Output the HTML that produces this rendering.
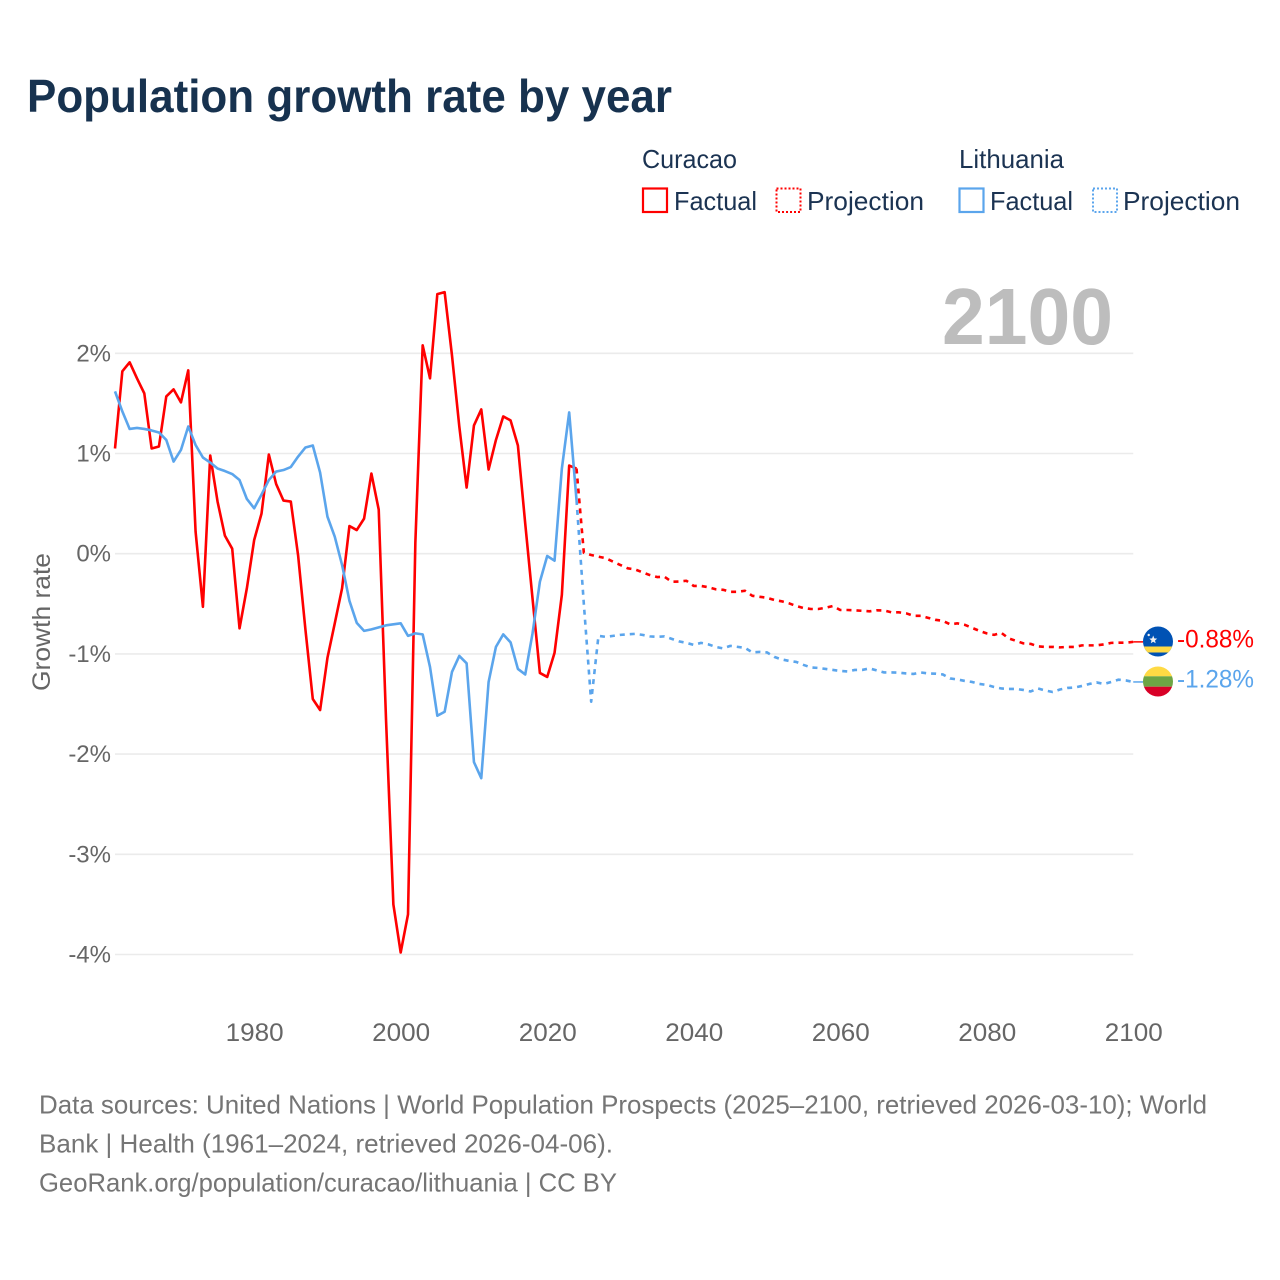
<!DOCTYPE html>
<html lang="en">
<head>
<meta charset="utf-8">
<title>Population growth rate by year</title>
<style>
html,body{margin:0;padding:0;background:#fff;}
svg{display:block;}
text{font-family:"Liberation Sans",sans-serif;}
</style>
</head>
<body>
<svg id="chart" xmlns="http://www.w3.org/2000/svg" width="1280" height="1280" viewBox="0 0 1280 1280">
  <rect x="0" y="0" width="1280" height="1280" fill="#ffffff"/>
  <text x="27" y="112" font-size="46" font-weight="700" fill="#17324f" textLength="645" lengthAdjust="spacingAndGlyphs">Population growth rate by year</text>

  <g font-size="26" fill="#1b3352">
    <text x="642" y="168" textLength="95" lengthAdjust="spacingAndGlyphs">Curacao</text>
    <text x="959" y="168" textLength="105" lengthAdjust="spacingAndGlyphs">Lithuania</text>
    <rect x="643" y="188.5" width="24" height="23.5" fill="none" stroke="#ff0000" stroke-width="2.2"/>
    <text x="674" y="210" textLength="83" lengthAdjust="spacingAndGlyphs">Factual</text>
    <rect x="776.5" y="188.5" width="24" height="23.5" fill="none" stroke="#ff0000" stroke-width="2" stroke-dasharray="2 2"/>
    <text x="807" y="210" textLength="117" lengthAdjust="spacingAndGlyphs">Projection</text>
    <rect x="959.5" y="188.5" width="24" height="23.5" fill="none" stroke="#5ba5ec" stroke-width="2.2"/>
    <text x="990" y="210" textLength="83" lengthAdjust="spacingAndGlyphs">Factual</text>
    <rect x="1093" y="188.5" width="24" height="23.5" fill="none" stroke="#5ba5ec" stroke-width="2" stroke-dasharray="2 2"/>
    <text x="1123" y="210" textLength="117" lengthAdjust="spacingAndGlyphs">Projection</text>
  </g>

  <g id="grid"></g>
  <text x="1113" y="344" font-size="80" font-weight="700" fill="#bdbdbd" text-anchor="end" textLength="171" lengthAdjust="spacingAndGlyphs">2100</text>
  <g id="yticks" font-size="24" fill="#666666" text-anchor="end"></g>
  <g id="xticks" font-size="25" fill="#666666" text-anchor="middle"></g>
  <text transform="translate(50,622) rotate(-90)" font-size="25" fill="#666666" text-anchor="middle" textLength="138" lengthAdjust="spacingAndGlyphs">Growth rate</text>
  <g id="series"></g>

  <g>
    <clipPath id="clipA"><circle cx="1158" cy="641.5" r="15"/></clipPath>
    <g clip-path="url(#clipA)">
      <rect x="1143" y="626" width="30" height="31" fill="#0052b4"/>
      <rect x="1143" y="646.5" width="30" height="6" fill="#ffda44"/>
      <polygon points="1153.2,635.5 1154.3,638.4 1157.2,638.6 1155,640.5 1155.7,643.3 1153.2,641.8 1150.8,643.3 1151.5,640.5 1149.3,638.6 1152.1,638.4" fill="#f0f0f0"/>
      <circle cx="1148.7" cy="635" r="1.2" fill="#f0f0f0"/>
    </g>
  </g>
  <g>
    <clipPath id="clipB"><circle cx="1158" cy="681.5" r="15"/></clipPath>
    <g clip-path="url(#clipB)">
      <rect x="1143" y="666" width="30" height="10.3" fill="#ffda44"/>
      <rect x="1143" y="676.3" width="30" height="10.4" fill="#6da544"/>
      <rect x="1143" y="686.7" width="30" height="10.3" fill="#d80027"/>
    </g>
  </g>
  <g id="endlabels" font-size="25"></g>

  <g font-size="26" fill="#757575">
    <text x="39" y="1113.5" textLength="1168" lengthAdjust="spacingAndGlyphs">Data sources: United Nations | World Population Prospects (2025–2100, retrieved 2026-03-10); World</text>
    <text x="39" y="1152.5" textLength="574" lengthAdjust="spacingAndGlyphs">Bank | Health (1961–2024, retrieved 2026-04-06).</text>
    <text x="39" y="1191.5" textLength="578" lengthAdjust="spacingAndGlyphs">GeoRank.org/population/curacao/lithuania | CC BY</text>
  </g>
</svg>
<script>
const factualStartYear = 1961;
const projectionStartYear = 2024;
const yTickValues = [2, 1, 0, -1, -2, -3, -4];
const yTickLabels = ["2%", "1%", "0%", "-1%", "-2%", "-3%", "-4%"];
const xTickValues = [1980, 2000, 2020, 2040, 2060, 2080, 2100];
const xTickLabels = ["1980", "2000", "2020", "2040", "2060", "2080", "2100"];
const curacaoFactual = [1.05,1.82,1.91,1.75,1.60,1.05,1.07,1.57,1.64,1.51,1.83,0.22,-0.53,0.98,0.52,0.18,0.05,-0.745,-0.345,0.137,0.40,0.99,0.695,0.53,0.52,-0.02,-0.76,-1.45,-1.56,-1.04,-0.695,-0.345,0.276,0.236,0.35,0.80,0.44,-1.66,-3.5,-3.98,-3.6,0.11,2.08,1.75,2.59,2.61,1.98,1.27,0.66,1.28,1.44,0.84,1.135,1.37,1.33,1.08,0.30,-0.45,-1.19,-1.23,-0.99,-0.41,0.88,0.85];
const lithuaniaFactual = [1.62,1.42,1.245,1.255,1.245,1.23,1.21,1.135,0.92,1.035,1.27,1.085,0.96,0.91,0.85,0.825,0.795,0.735,0.546,0.453,0.59,0.735,0.82,0.835,0.865,0.97,1.06,1.08,0.81,0.37,0.17,-0.113,-0.47,-0.69,-0.77,-0.755,-0.735,-0.715,-0.705,-0.695,-0.82,-0.795,-0.805,-1.13,-1.617,-1.577,-1.18,-1.02,-1.094,-2.08,-2.24,-1.28,-0.93,-0.805,-0.885,-1.15,-1.205,-0.795,-0.28,-0.023,-0.07,0.85,1.41,0.536];
const curacaoProjection = [0.85,0.01,-0.013,-0.03,-0.045,-0.08,-0.113,-0.146,-0.157,-0.186,-0.213,-0.233,-0.23,-0.28,-0.278,-0.27,-0.322,-0.322,-0.335,-0.355,-0.36,-0.38,-0.38,-0.37,-0.42,-0.43,-0.44,-0.462,-0.475,-0.495,-0.522,-0.542,-0.552,-0.552,-0.54,-0.522,-0.562,-0.562,-0.565,-0.57,-0.575,-0.565,-0.567,-0.585,-0.585,-0.595,-0.62,-0.62,-0.64,-0.66,-0.67,-0.705,-0.695,-0.71,-0.74,-0.77,-0.795,-0.81,-0.79,-0.845,-0.87,-0.895,-0.90,-0.925,-0.93,-0.93,-0.935,-0.93,-0.93,-0.915,-0.915,-0.915,-0.905,-0.89,-0.888,-0.888,-0.88];
const lithuaniaProjection = [0.536,-0.50,-1.477,-0.82,-0.83,-0.82,-0.81,-0.805,-0.80,-0.81,-0.825,-0.83,-0.825,-0.85,-0.875,-0.89,-0.91,-0.89,-0.905,-0.93,-0.945,-0.92,-0.93,-0.94,-0.985,-0.98,-0.985,-1.03,-1.055,-1.07,-1.08,-1.11,-1.135,-1.14,-1.15,-1.16,-1.17,-1.175,-1.16,-1.16,-1.145,-1.165,-1.185,-1.185,-1.187,-1.195,-1.20,-1.185,-1.195,-1.197,-1.205,-1.245,-1.255,-1.27,-1.28,-1.30,-1.31,-1.33,-1.345,-1.35,-1.35,-1.36,-1.375,-1.345,-1.365,-1.38,-1.355,-1.34,-1.335,-1.32,-1.30,-1.285,-1.30,-1.28,-1.257,-1.265,-1.28];
const endValueLabels = ["-0.88%", "-1.28%"];

const NS = "http://www.w3.org/2000/svg";
const RED = "#ff0000";
const BLUE = "#5ba5ec";
const xScale = function (year) { return 115 + (year - 1961) * 7.3255; };
const yScale = function (value) { return 553.7 - value * 100.2; };

const pointsFor = function (values, startYear) {
  return values.map(function (v, i) {
    return xScale(startYear + i).toFixed(2) + "," + yScale(v).toFixed(2);
  }).join(" ");
};

const grid = document.getElementById("grid");
const yticks = document.getElementById("yticks");
yTickValues.forEach(function (v, i) {
  const line = document.createElementNS(NS, "line");
  
  
  line.setAttribute("x1", xScale(1961));
  line.setAttribute("x2", xScale(2100));
  line.setAttribute("y1", yScale(v));
  line.setAttribute("y2", yScale(v));
  line.setAttribute("stroke", "#ebebeb");
  line.setAttribute("stroke-width", "1.6");
  grid.appendChild(line);
  const t = document.createElementNS(NS, "text");
  
  
  t.setAttribute("x", 111);
  t.setAttribute("y", yScale(v) + 8);
  t.textContent = yTickLabels[i];
  yticks.appendChild(t);
});

const xticks = document.getElementById("xticks");
xTickValues.forEach(function (year, i) {
  const t = document.createElementNS(NS, "text");
  
  
  t.setAttribute("x", xScale(year) + 0.5);
  t.setAttribute("y", 1041);
  t.setAttribute("textLength", "58");
  t.setAttribute("lengthAdjust", "spacingAndGlyphs");
  t.textContent = xTickLabels[i];
  xticks.appendChild(t);
});

const series = document.getElementById("series");
const addLine = function (el, color, values, startYear, dashed) {
  el.setAttribute("points", pointsFor(values, startYear));
  el.setAttribute("fill", "none");
  el.setAttribute("stroke", color);
  el.setAttribute("stroke-width", "2.6");
  el.setAttribute("stroke-linejoin", "round");
  if (dashed) { el.setAttribute("stroke-dasharray", "5 5"); }
  series.appendChild(el);
};

const lineCF = document.createElementNS(NS, "polyline");


addLine(lineCF, RED, curacaoFactual, factualStartYear, false);

const lineLF = document.createElementNS(NS, "polyline");


addLine(lineLF, BLUE, lithuaniaFactual, factualStartYear, false);

const lineLP = document.createElementNS(NS, "polyline");


addLine(lineLP, BLUE, lithuaniaProjection, projectionStartYear, true);

const lineCP = document.createElementNS(NS, "polyline");


addLine(lineCP, RED, curacaoProjection, projectionStartYear, true);

const connectorC = document.createElementNS(NS, "line");


connectorC.setAttribute("x1", xScale(2100));
connectorC.setAttribute("x2", 1143);
connectorC.setAttribute("y1", yScale(curacaoProjection[curacaoProjection.length - 1]));
connectorC.setAttribute("y2", yScale(curacaoProjection[curacaoProjection.length - 1]));
connectorC.setAttribute("stroke", RED);
connectorC.setAttribute("stroke-width", "1.5");
series.appendChild(connectorC);

const connectorL = document.createElementNS(NS, "line");


connectorL.setAttribute("x1", xScale(2100));
connectorL.setAttribute("x2", 1143);
connectorL.setAttribute("y1", yScale(lithuaniaProjection[lithuaniaProjection.length - 1]));
connectorL.setAttribute("y2", yScale(lithuaniaProjection[lithuaniaProjection.length - 1]));
connectorL.setAttribute("stroke", BLUE);
connectorL.setAttribute("stroke-width", "1.5");
series.appendChild(connectorL);

const endlabels = document.getElementById("endlabels");
const labelC = document.createElementNS(NS, "text");


labelC.setAttribute("x", 1177);
labelC.setAttribute("y", 647.5);
labelC.setAttribute("fill", RED);
labelC.setAttribute("textLength", "77");
labelC.setAttribute("lengthAdjust", "spacingAndGlyphs");
labelC.textContent = endValueLabels[0];
endlabels.appendChild(labelC);

const labelL = document.createElementNS(NS, "text");


labelL.setAttribute("x", 1177);
labelL.setAttribute("y", 687.5);
labelL.setAttribute("fill", BLUE);
labelL.setAttribute("textLength", "77");
labelL.setAttribute("lengthAdjust", "spacingAndGlyphs");
labelL.textContent = endValueLabels[1];
endlabels.appendChild(labelL);
</script>
</body>
</html>
